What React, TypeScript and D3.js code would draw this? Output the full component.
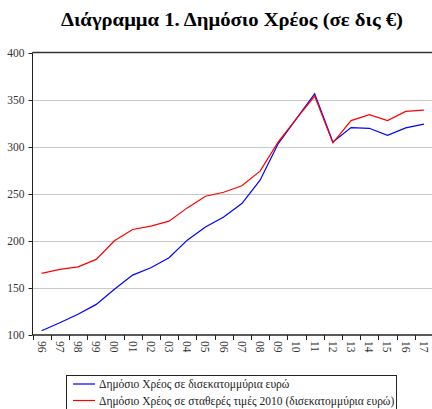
import React from 'react';
import { scaleBand, scaleLinear, line } from 'd3';

const years = ['96', '97', '98', '99', '00', '01', '02', '03', '04', '05', '06', '07', '08', '09', '10', '11', '12', '13', '14', '15', '16', '17'];
// δημόσιο χρέος σε δισ. ευρώ (τρέχουσες τιμές)
const debtNominal = [104.5, 113, 122, 132.5, 148.5, 163.6, 171.4, 182, 200.7, 214.8, 225.4, 239.6, 264.4, 303.3, 329.8, 356.3, 305, 320.2, 319.5, 312, 320, 324];
// σε σταθερές τιμές 2010
const debtReal = [165.4, 169.6, 172.4, 180.3, 200, 212, 215.6, 220.9, 235, 247.4, 251.6, 258.4, 274, 305, 329.8, 353.8, 304, 327.7, 334, 327.7, 337.5, 338.9];
const yTicks = [100, 150, 200, 250, 300, 350, 400];
const legendLabels = [
  'Δημόσιο Χρέος σε δισεκατομμύρια ευρώ',
  'Δημόσιο Χρέος σε σταθερές τιμές 2010 (δισεκατομμύρια ευρώ)',
];
const colors = ['#0000ff', '#ff0000'];

const W = 432;
const H = 409;
const left = 32.5;
const right = 433;
const top = 52.5;
const bottom = 335;

const font = "'Liberation Serif', 'DejaVu Serif', serif";

export default function App() {
  const x = scaleBand<string>().domain(years).range([left, right]);
  const y = scaleLinear().domain([100, 400]).range([bottom, top]);

  const mkLine = line<number>()
    .x((d, i) => (x(years[i]) as number) + x.bandwidth() / 2)
    .y((d) => y(d));

  return (
    <svg width={W} height={H} style={{ position: 'absolute', left: 0, top: 0, background: '#fff', fontFamily: font }}>
      <text x={232} y={26} textAnchor="middle" fontWeight="bold" fontSize={19.5} fill="#000"
        textLength={342} lengthAdjust="spacingAndGlyphs">
        Διάγραμμα 1. Δημόσιο Χρέος (σε δις €)
      </text>

      {/* gridlines */}
      {yTicks.filter((t) => t > 100 && t < 400).map((t) => (
        <line key={t} x1={left} x2={W} y1={Math.round(y(t)) + 0.5} y2={Math.round(y(t)) + 0.5} stroke="#c8c8c8" strokeWidth={1} />
      ))}
      {/* top border */}
      <line x1={left} x2={W} y1={top} y2={top} stroke="#333" strokeWidth={1.5} />

      {/* y axis */}
      <line x1={left} x2={left} y1={top} y2={bottom} stroke="#222" strokeWidth={1} />
      {yTicks.map((t) => (
        <g key={t}>
          <line x1={left - 4} x2={left} y1={Math.round(y(t)) + 0.5} y2={Math.round(y(t)) + 0.5} stroke="#222" />
          <text x={24.5} y={y(t) + 4} textAnchor="end" fontSize={11.5} fill="#333">{t}</text>
        </g>
      ))}

      {/* x axis */}
      <line x1={left} x2={W} y1={bottom} y2={bottom} stroke="#222" strokeWidth={1.5} />
      {years.map((yr) => {
        const bx = x(yr) as number;
        const cx = bx + x.bandwidth() / 2;
        return (
          <g key={yr}>
            <line x1={Math.round(bx) + 0.5} x2={Math.round(bx) + 0.5} y1={bottom} y2={bottom + 5} stroke="#222" />
            <text transform={`translate(${cx - 4},${bottom + 6}) rotate(90)`} textAnchor="start" fontSize={11.5} fill="#333">
              {yr}
            </text>
          </g>
        );
      })}

      {/* lines */}
      <path d={mkLine(debtNominal) || ''} fill="none" stroke={colors[0]} strokeWidth={1.2} />
      <path d={mkLine(debtReal) || ''} fill="none" stroke={colors[1]} strokeWidth={1.2} />

      {/* legend */}
      <rect x={66.5} y={375.5} width={330} height={40} fill="#fff" stroke="#222" strokeWidth={1} />
      {legendLabels.map((lbl, i) => (
        <g key={lbl}>
          <line x1={73} x2={95} y1={384 + i * 16.5} y2={384 + i * 16.5} stroke={colors[i]} strokeWidth={1.2} />
          <text x={99} y={388 + i * 16.5} fontSize={11.5} fill="#222">{lbl}</text>
        </g>
      ))}
    </svg>
  );
}
